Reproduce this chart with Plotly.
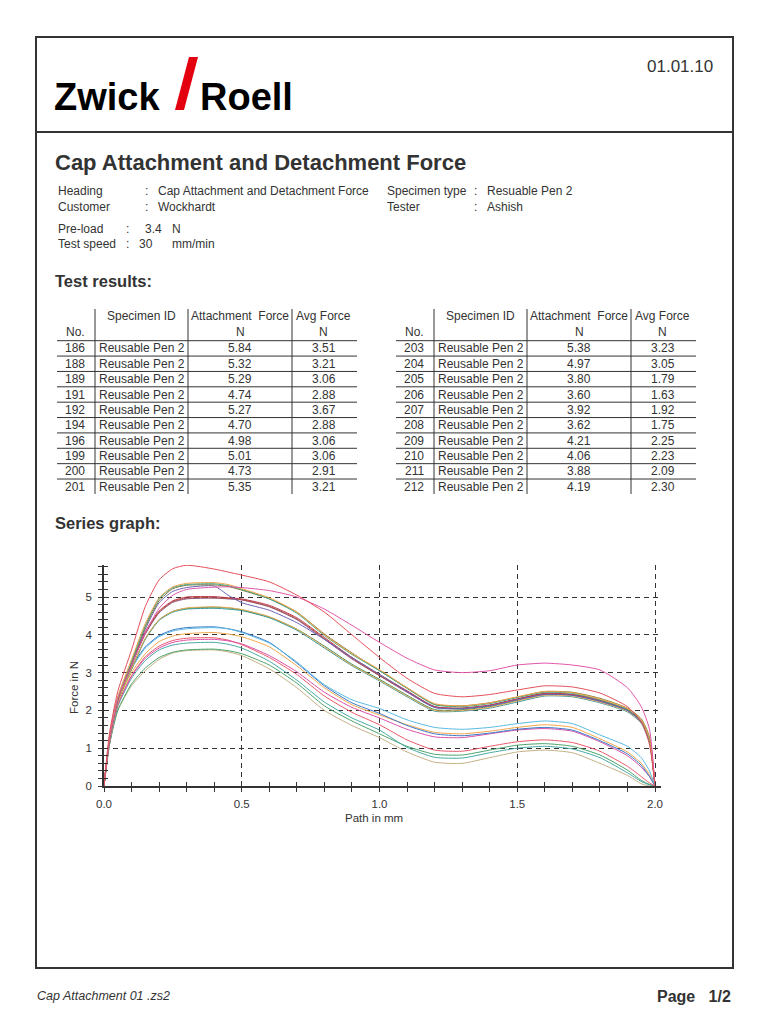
import plotly.graph_objects as go

# The page body keeps an 8 px margin, so the figure is drawn 8 px in from the
# top-left corner; size it to fill the rest of the 768x1024 window exactly.
OFF = 8
W, H = 768 - OFF, 1024 - OFF
FONT = "Liberation Sans, Arial, sans-serif"
NARROW = "Liberation Sans Narrow, Arial Narrow, Liberation Sans, Arial, sans-serif"
INK = "#333333"

# ---------------- data ----------------
specimen_name = "Reusable Pen 2"
left_ids = [186, 188, 189, 191, 192, 194, 196, 199, 200, 201]
left_attach = [5.84, 5.32, 5.29, 4.74, 5.27, 4.70, 4.98, 5.01, 4.73, 5.35]
left_avg = [3.51, 3.21, 3.06, 2.88, 3.67, 2.88, 3.06, 3.06, 2.91, 3.21]
right_ids = [203, 204, 205, 206, 207, 208, 209, 210, 211, 212]
right_attach = [5.38, 4.97, 3.80, 3.60, 3.92, 3.62, 4.21, 4.06, 3.88, 4.19]
right_avg = [3.23, 3.05, 1.79, 1.63, 1.92, 1.75, 2.25, 2.23, 2.09, 2.30]

path_mm = [0, 0.02, 0.05, 0.1, 0.15, 0.2, 0.25, 0.3, 0.4, 0.45, 0.5, 0.6, 0.7, 0.8,
           0.9, 1.0, 1.1, 1.2, 1.3, 1.4, 1.5, 1.6, 1.7, 1.8, 1.9, 1.95, 1.98, 2.0]

f186 = [0, 1.4, 2.5, 3.6, 4.75, 5.45, 5.75, 5.84, 5.74, 5.66, 5.58, 5.4, 5.05, 4.6, 4.0, 3.4, 2.85, 2.45, 2.36, 2.42, 2.54, 2.65, 2.62, 2.46, 2.1, 1.7, 1.1, 0]
f192 = [0, 1.25, 2.3, 3.2, 4.05, 4.7, 5.05, 5.2, 5.26, 5.27, 5.25, 5.17, 5.0, 4.68, 4.25, 3.8, 3.38, 3.07, 3.0, 3.05, 3.2, 3.25, 3.2, 3.07, 2.6, 2.1, 1.5, 0]
f203 = [0, 1.3, 2.35, 3.35, 4.3, 4.98, 5.27, 5.36, 5.38, 5.33, 5.22, 4.98, 4.6, 4.0, 3.5, 3.08, 2.6, 2.18, 2.12, 2.2, 2.36, 2.5, 2.47, 2.3, 2.05, 1.75, 1.25, 0]
f201 = [0, 1.3, 2.35, 3.3, 4.25, 4.95, 5.25, 5.33, 5.35, 5.3, 5.2, 4.95, 4.57, 3.98, 3.48, 3.05, 2.58, 2.15, 2.1, 2.18, 2.34, 2.48, 2.45, 2.28, 2.02, 1.72, 1.2, 0]
f188 = [0, 1.25, 2.3, 3.25, 4.2, 4.9, 5.22, 5.31, 5.32, 5.28, 5.18, 4.95, 4.6, 4.02, 3.52, 3.05, 2.6, 2.16, 2.12, 2.2, 2.35, 2.5, 2.48, 2.32, 2.06, 1.78, 1.3, 0]
f189 = [0, 1.25, 2.3, 3.25, 4.15, 4.85, 5.15, 5.25, 5.29, 5.05, 4.85, 4.65, 4.32, 3.88, 3.4, 2.95, 2.5, 2.08, 2.05, 2.12, 2.28, 2.42, 2.4, 2.24, 2.0, 1.7, 1.2, 0]
f196 = [0, 1.25, 2.3, 3.2, 4.05, 4.6, 4.88, 4.97, 4.98, 4.96, 4.93, 4.75, 4.42, 3.9, 3.38, 2.92, 2.5, 2.1, 2.06, 2.14, 2.3, 2.45, 2.42, 2.27, 2.02, 1.72, 1.22, 0]
f199 = [0, 1.25, 2.3, 3.22, 4.08, 4.63, 4.9, 5.0, 5.01, 4.98, 4.95, 4.78, 4.45, 3.93, 3.4, 2.95, 2.52, 2.1, 2.06, 2.14, 2.3, 2.45, 2.42, 2.27, 2.02, 1.72, 1.22, 0]
f204 = [0, 1.25, 2.3, 3.2, 4.02, 4.58, 4.86, 4.95, 4.97, 4.95, 4.92, 4.74, 4.4, 3.88, 3.36, 2.92, 2.48, 2.08, 2.05, 2.13, 2.3, 2.44, 2.41, 2.26, 2.0, 1.7, 1.2, 0]
f191 = [0, 1.2, 2.25, 3.1, 3.9, 4.4, 4.62, 4.71, 4.74, 4.72, 4.67, 4.48, 4.15, 3.68, 3.2, 2.8, 2.38, 2.0, 2.0, 2.08, 2.25, 2.4, 2.38, 2.22, 1.98, 1.68, 1.18, 0]
f194 = [0, 1.2, 2.25, 3.08, 3.88, 4.38, 4.6, 4.68, 4.7, 4.68, 4.64, 4.45, 4.12, 3.65, 3.18, 2.78, 2.36, 1.98, 1.98, 2.06, 2.22, 2.38, 2.36, 2.2, 1.96, 1.66, 1.15, 0]
f200 = [0, 1.2, 2.25, 3.1, 3.9, 4.4, 4.62, 4.7, 4.73, 4.71, 4.66, 4.47, 4.15, 3.7, 3.22, 2.82, 2.4, 2.02, 2.02, 2.1, 2.26, 2.42, 2.4, 2.24, 2.0, 1.7, 1.2, 0]
f212 = [0, 1.2, 2.25, 3.1, 3.65, 3.95, 4.1, 4.16, 4.19, 4.16, 4.06, 3.78, 3.28, 2.68, 2.28, 2.05, 1.75, 1.55, 1.5, 1.55, 1.65, 1.72, 1.65, 1.35, 1.05, 0.75, 0.4, 0]
f209 = [0, 1.2, 2.25, 3.15, 3.68, 3.98, 4.13, 4.19, 4.21, 4.16, 4.08, 3.8, 3.25, 2.65, 2.2, 1.92, 1.6, 1.38, 1.33, 1.4, 1.5, 1.55, 1.48, 1.2, 0.85, 0.55, 0.25, 0]
f210 = [0, 1.15, 2.2, 3.0, 3.5, 3.82, 3.97, 4.03, 4.06, 4.02, 3.95, 3.68, 3.18, 2.6, 2.15, 1.88, 1.62, 1.42, 1.38, 1.45, 1.55, 1.62, 1.55, 1.25, 0.9, 0.6, 0.3, 0]
f211 = [0, 1.15, 2.15, 2.9, 3.38, 3.65, 3.8, 3.86, 3.88, 3.84, 3.76, 3.45, 3.02, 2.48, 2.08, 1.8, 1.5, 1.3, 1.28, 1.38, 1.48, 1.52, 1.45, 1.17, 0.8, 0.5, 0.25, 0]
f207 = [0, 1.15, 2.15, 2.92, 3.42, 3.7, 3.85, 3.91, 3.92, 3.86, 3.74, 3.4, 2.95, 2.38, 1.95, 1.62, 1.22, 0.95, 0.92, 1.05, 1.17, 1.22, 1.15, 0.92, 0.52, 0.25, 0.08, 0]
f205 = [0, 1.1, 2.1, 2.85, 3.32, 3.6, 3.73, 3.78, 3.8, 3.75, 3.65, 3.3, 2.8, 2.22, 1.8, 1.48, 1.02, 0.76, 0.74, 0.88, 1.0, 1.05, 0.98, 0.75, 0.35, 0.12, 0.03, 0]
f208 = [0, 1.1, 2.0, 2.7, 3.12, 3.4, 3.54, 3.6, 3.62, 3.58, 3.5, 3.2, 2.72, 2.12, 1.72, 1.38, 1.05, 0.84, 0.82, 0.95, 1.08, 1.12, 1.05, 0.82, 0.42, 0.15, 0.04, 0]
f206 = [0, 1.1, 2.0, 2.65, 3.05, 3.35, 3.52, 3.58, 3.6, 3.55, 3.45, 3.1, 2.6, 2.0, 1.6, 1.28, 0.9, 0.63, 0.6, 0.75, 0.9, 0.95, 0.88, 0.6, 0.28, 0.06, 0.0, 0]

curves = [
    (206, f206, "#c3b184"), (208, f208, "#4ca36a"), (205, f205, "#47aaa4"),
    (207, f207, "#e8596a"), (211, f211, "#d94fa8"), (210, f210, "#f2a64a"),
    (209, f209, "#3a78c8"), (212, f212, "#58b9e0"),
    (194, f194, "#3a9aa0"), (200, f200, "#2f8a55"), (191, f191, "#eeaa55"),
    (204, f204, "#8e4f92"), (196, f196, "#a8553a"), (199, f199, "#c0394f"),
    (189, f189, "#6b63b5"), (188, f188, "#857a3c"), (201, f201, "#3fa58a"),
    (203, f203, "#f0a348"), (192, f192, "#e055a8"), (186, f186, "#e4505a"),
]


def X(px):
    return (px - OFF) / W


def Y(py):
    return 1 - (py - OFF) / H


fig = go.Figure()
for sid, ys, col in curves:
    fig.add_trace(go.Scatter(x=path_mm, y=ys, mode="lines", name=str(sid),
                             line=dict(color=col, width=1, shape="spline", smoothing=0.6),
                             showlegend=False, hoverinfo="skip"))
# helper trace for the inner half of the crossing ticks
fig.add_trace(go.Scatter(x=[0], y=[0], xaxis="x2", yaxis="y2", mode="markers",
                         marker=dict(opacity=0), showlegend=False, hoverinfo="skip"))

annotations = []
shapes = []


def txt(x, y, s, size=12, anchor="left", color=INK, family=FONT, angle=0):
    annotations.append(dict(x=X(x), y=Y(y), xref="paper", yref="paper", text=s,
                            showarrow=False, xanchor=anchor, yanchor="middle",
                            textangle=angle,
                            font=dict(size=size, color=color, family=family)))


def line(x0, y0, x1, y1, width=1, color=INK):
    shapes.append(dict(type="line", xref="paper", yref="paper",
                       x0=X(x0), y0=Y(y0), x1=X(x1), y1=Y(y1),
                       line=dict(color=color, width=width)))


# page frame
shapes.append(dict(type="rect", xref="paper", yref="paper", x0=X(36), y0=Y(968),
                   x1=X(733), y1=Y(37), line=dict(color=INK, width=2)))
line(36, 132, 733, 132, width=2)

# logo
txt(52, 97, "<b>Zwick</b>", size=38, color="#000000")
txt(198, 97, "<b>Roell</b>", size=38, color="#000000")
pts = [(175, 110), (184, 110), (198, 57), (189, 57)]
path = "M " + " L ".join(f"{X(a):.5f},{Y(b):.5f}" for a, b in pts) + " Z"
shapes.append(dict(type="path", xref="paper", yref="paper", path=path,
                   fillcolor="#e3000f", line=dict(width=0)))
txt(715, 66, "01.01.10", size=17, anchor="right")

# title and metadata
txt(53, 163, "<b>Cap Attachment and Detachment Force</b>", size=22)
txt(56, 191, "Heading", size=12)
txt(143, 191, ":", size=12)
txt(156, 191, "Cap Attachment and Detachment Force", size=12)
txt(56, 206.5, "Customer", size=12)
txt(143, 206.5, ":", size=12)
txt(156, 206.5, "Wockhardt", size=12)
txt(385, 191, "Specimen type", size=12)
txt(472, 191, ":", size=12)
txt(485, 191, "Resuable Pen 2", size=12)
txt(385, 206.5, "Tester", size=12)
txt(472, 206.5, ":", size=12)
txt(485, 206.5, "Ashish", size=12)
txt(56, 229, "Pre-load", size=12)
txt(124, 229, ":", size=12)
txt(143, 229, "3.4", size=12)
txt(170, 229, "N", size=12)
txt(56, 244, "Test speed", size=12)
txt(124, 244, ":", size=12)
txt(137, 244, "30", size=12)
txt(170, 244, "mm/min", size=12)

txt(53, 281, "<b>Test results:</b>", size=16.5)


def table(off, ids, attach, avg):
    c_no, c_sp, c_at, c_av = 75 + off, 141.5 + off, 240 + off, 323.5 + off
    txt(c_sp, 315.5, "Specimen ID", size=12, anchor="center")
    txt(c_at, 315.5, "Attachment\u00a0 Force", size=12, anchor="center")
    txt(c_av, 315.5, "Avg Force", size=12, anchor="center")
    txt(c_no, 331.5, "No.", size=12, anchor="center")
    txt(c_at, 331.5, "N", size=12, anchor="center")
    txt(c_av, 331.5, "N", size=12, anchor="center")
    step = 15.37
    for i, (sid, a, v) in enumerate(zip(ids, attach, avg)):
        yc = 348.5 + i * step
        txt(c_no, yc, str(sid), size=12, anchor="center")
        txt(c_sp, yc, specimen_name, size=12, anchor="center")
        txt(c_at, yc, f"{a:.2f}", size=12, anchor="center")
        txt(c_av, yc, f"{v:.2f}", size=12, anchor="center")
        line(57 + off, 340.7 + i * step, 357 + off, 340.7 + i * step)
    for vx in (95, 188, 292):
        line(vx + off, 309, vx + off, 494)


table(0, left_ids, left_attach, left_avg)
table(339, right_ids, right_attach, right_avg)

txt(53, 523, "<b>Series graph:</b>", size=16.5)

# axis titles
txt(74, 688, "Force in N", size=11.5, anchor="center", angle=-90)
txt(374, 818, "Path in mm", size=11.5, anchor="center")

# footer
txt(35, 996, "<i>Cap Attachment 01 .zs2</i>", size=12.5, family=NARROW)
txt(733, 996, "<b>Page\u00a0\u00a0 1/2</b>", size=16, anchor="right", family=NARROW)

xr = [0, 2.02]
yr = [0, 5.85]
xdom = [X(104), X(104 + 2.02 * 275.5)]
ydom = [Y(786), Y(786 - 5.85 * 37.8)]
tickfont = dict(size=11.5, color=INK, family=FONT)

fig.update_layout(
    width=W, height=H, autosize=False,
    margin=dict(l=0, r=0, t=0, b=0, pad=0),
    paper_bgcolor="white", plot_bgcolor="white",
    showlegend=False,
    xaxis=dict(domain=xdom, range=xr, anchor="y", tick0=0, dtick=0.5, tickformat=".1f",
               ticks="outside", ticklen=4, tickwidth=1, tickcolor=INK,
               minor=dict(tick0=0, dtick=0.1, ticks="outside", ticklen=4, tickwidth=1,
                          tickcolor=INK, showgrid=False),
               showgrid=True, gridcolor=INK, gridwidth=1, griddash="5px,4px",
               showline=True, linecolor=INK, linewidth=1.5, zeroline=False,
               tickfont=tickfont, ticklabelstandoff=2, automargin=False, fixedrange=True),
    yaxis=dict(domain=ydom, range=yr, anchor="x", tick0=0, dtick=1,
               ticks="outside", ticklen=4, tickwidth=1, tickcolor=INK,
               minor=dict(tick0=0, dtick=0.2, ticks="outside", ticklen=4, tickwidth=1,
                          tickcolor=INK, showgrid=False),
               showgrid=True, gridcolor=INK, gridwidth=1, griddash="5px,4px",
               showline=True, linecolor=INK, linewidth=1.5, zeroline=False,
               tickfont=tickfont, ticklabelstandoff=4, automargin=False, fixedrange=True),
    xaxis2=dict(overlaying="x", anchor="y", range=xr, side="bottom", tick0=0, dtick=0.5,
                ticks="inside", ticklen=4, tickwidth=1, tickcolor=INK,
                minor=dict(tick0=0, dtick=0.1, ticks="inside", ticklen=4, tickwidth=1,
                           tickcolor=INK, showgrid=False),
                showticklabels=False, showgrid=False, showline=False, zeroline=False,
                automargin=False, fixedrange=True),
    yaxis2=dict(overlaying="y", anchor="x", range=yr, side="left", tick0=0, dtick=1,
                ticks="inside", ticklen=4, tickwidth=1, tickcolor=INK,
                minor=dict(tick0=0, dtick=0.2, ticks="inside", ticklen=4, tickwidth=1,
                           tickcolor=INK, showgrid=False),
                showticklabels=False, showgrid=False, showline=False, zeroline=False,
                automargin=False, fixedrange=True),
    annotations=annotations,
    shapes=shapes,
)

fig.write_html("out.html")
